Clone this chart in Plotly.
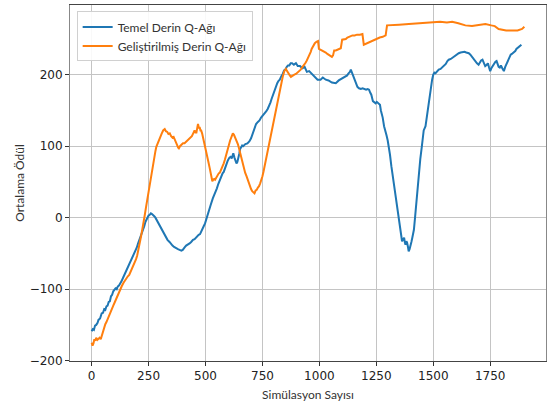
import plotly.graph_objects as go

# Temel Derin Q-Ağı (blue)
temel_x = [0,5,10,15,20,26,30,37,44,50,55,60,65,70,75,80,85,90,95,100,105,110,115,120,125,131,138,144,150,155,160,165,170,176,182,187,192,198,204,210,215,220,226,231,236,241,245,250,255,260,265,270,275,280,285,292,299,306,313,319,325,333,342,348,355,362,370,379,386,394,400,405,410,415,422,430,437,445,452,460,465,470,476,481,487,492,498,503,509,515,523,532,538,545,550,556,562,569,575,580,586,592,598,605,610,615,622,627,632,636,640,644,648,652,656,661,665,670,675,684,693,700,706,712,717,722,730,737,744,750,756,761,767,773,779,785,790,795,802,808,815,820,826,833,839,845,850,857,862,868,874,880,888,897,905,915,926,935,945,955,962,970,980,992,1005,1015,1028,1040,1055,1072,1085,1095,1105,1116,1122,1128,1134,1138,1143,1148,1155,1160,1167,1174,1182,1190,1198,1205,1212,1218,1223,1228,1235,1242,1247,1252,1257,1262,1266,1270,1274,1278,1284,1290,1295,1300,1305,1310,1316,1322,1327,1333,1338,1344,1349,1356,1363,1368,1372,1375,1378,1382,1385,1389,1392,1396,1400,1404,1408,1412,1415,1420,1425,1431,1437,1443,1450,1458,1466,1473,1480,1487,1495,1500,1505,1510,1515,1520,1524,1532,1540,1548,1555,1562,1568,1577,1585,1592,1600,1606,1612,1620,1630,1637,1645,1650,1656,1663,1670,1677,1685,1692,1699,1705,1710,1716,1721,1728,1735,1740,1745,1750,1755,1762,1768,1773,1778,1783,1787,1792,1797,1803,1810,1816,1823,1829,1835,1840,1845,1853,1860,1865,1872,1882,1887,1892,1896,1900]
temel_y = [-159,-156,-157,-151,-150,-147,-143,-141,-134,-133,-128,-129,-124,-123,-118,-117,-110,-108,-103,-101,-99,-100,-96,-95,-91,-89,-84,-80,-75,-72,-68,-66,-62,-58,-53,-51,-46,-42,-36,-31,-26,-22,-16,-12,-6,-2,1,3,4,6,5,4,2,0,-3,-6,-10,-15,-20,-24,-27,-31,-34,-37,-39,-41,-43,-44,-45,-46,-45,-42,-41,-39,-38,-36,-34,-31,-30,-27,-26,-24,-23,-20,-17,-12,-8,-2,3,10,18,27,31,37,41,47,52,57,62,64,70,74,80,84,85,83,90,84,78,76,78,82,89,96,99,101,100,102,103,104,107,111,117,122,128,131,134,136,140,142,144,147,149,152,156,161,166,171,178,184,188,191,193,198,201,206,207,211,213,213,216,216,214,216,212,212,209,211,204,205,203,200,197,193,193,196,193,192,189,188,192,194,196,198,199,202,204,207,203,197,193,190,183,181,180,181,180,179,180,179,175,172,163,161,160,162,161,160,158,150,146,140,128,122,115,108,100,88,72,58,44,33,20,9,-3,-20,-33,-30,-28,-34,-38,-33,-35,-41,-47,-44,-40,-34,-28,-22,-17,0,20,42,62,82,100,122,128,145,163,178,193,200,203,202,204,206,207,208,210,212,215,219,221,222,224,226,228,229,230,231,232,232,231,231,230,228,225,222,218,216,214,217,220,221,218,212,214,216,210,205,209,213,216,218,219,215,211,210,213,209,205,211,216,222,226,228,229,231,233,236,238,240,242]

# Geliştirilmiş Derin Q-Ağı (orange)
gelis_x = [0,4,8,12,16,20,25,30,35,40,45,50,55,60,65,72,80,87,95,102,110,117,124,132,140,147,153,159,165,171,178,184,190,195,200,205,211,217,222,228,233,239,245,250,255,260,265,270,275,280,284,290,295,302,308,314,321,326,332,337,343,349,355,360,365,370,375,380,383,388,392,397,401,408,415,422,429,435,440,446,452,456,460,464,467,471,474,478,481,485,488,492,496,501,507,512,518,522,525,530,534,538,542,547,552,558,563,569,574,580,585,590,594,598,603,608,614,620,625,630,636,642,647,652,657,663,668,674,680,685,690,695,700,705,710,715,720,725,730,735,740,744,750,755,760,766,771,777,782,788,794,799,805,810,817,822,828,833,839,846,850,853,858,864,870,875,882,890,897,904,911,918,926,934,940,945,950,955,962,966,970,975,980,987,994,998,1005,1010,1020,1028,1035,1040,1045,1050,1055,1060,1065,1072,1080,1087,1094,1100,1108,1116,1123,1130,1138,1145,1155,1165,1178,1189,1195,1202,1210,1220,1230,1238,1247,1256,1265,1278,1291,1297,1320,1350,1393,1430,1460,1495,1530,1560,1583,1610,1641,1670,1700,1729,1755,1770,1787,1800,1820,1845,1870,1890,1900]
gelis_y = [-175,-179,-176,-170,-172,-168,-171,-170,-168,-170,-165,-158,-152,-149,-146,-140,-134,-128,-123,-118,-112,-106,-100,-96,-91,-87,-84,-82,-80,-76,-71,-67,-62,-58,-53,-46,-36,-26,-17,-8,3,15,27,38,48,58,67,76,84,93,99,104,110,115,118,122,124,121,120,117,118,114,112,113,110,106,102,98,97,100,101,102,104,104,106,108,110,112,114,118,122,119,119,126,131,125,127,122,122,118,114,110,104,96,87,79,70,63,59,51,53,54,53,56,58,62,63,67,71,76,81,86,90,96,102,108,113,118,116,112,109,103,97,90,83,76,70,63,58,53,48,44,40,37,35,34,38,39,42,44,48,51,58,65,73,81,89,98,106,114,123,132,142,151,165,173,182,190,197,205,206,208,205,201,199,197,199,200,201,203,205,207,211,214,217,220,223,226,232,236,239,242,244,246,247,236,235,234,233,231,229,228,226,225,225,227,234,234,235,236,237,249,249,250,252,253,254,255,255,256,256,257,242,243,244,246,247,248,250,251,252,253,255,269,269,270,271,272,273,274,274,273,274,272,269,268,269,271,269,268,264,263,262,262,262,264,267]

x_ticks = [0, 250, 500, 750, 1000, 1250, 1500, 1750]
y_ticks = [-200, -100, 0, 100, 200]

fig = go.Figure()
fig.add_trace(go.Scatter(x=temel_x, y=temel_y, mode="lines", name="Temel Derin Q-Ağı",
                         line=dict(color="#1f77b4", width=2)))
fig.add_trace(go.Scatter(x=gelis_x, y=gelis_y, mode="lines", name="Geliştirilmiş Derin Q-Ağı",
                         line=dict(color="#ff7f0e", width=2)))

label_font = dict(family="Lato, 'Noto Sans', sans-serif", size=12, color="#333333")
tick_font = dict(family="'DejaVu Sans', sans-serif", size=12, color="#222222")

fig.update_layout(
    width=547, height=406,
    margin=dict(l=70, r=1, t=5, b=45),
    paper_bgcolor="white", plot_bgcolor="white",
    showlegend=True,
    legend=dict(x=0.014, y=0.982, xanchor="left", yanchor="top",
                bgcolor="rgba(255,255,255,0.9)", bordercolor="#d0d0d0", borderwidth=1,
                font=label_font, tracegroupgap=0),
    xaxis=dict(range=[-95, 1995], tickvals=x_ticks, ticks="outside", ticklen=4,
               tickcolor="#333333", tickfont=tick_font, automargin=False,
               showgrid=True, gridcolor="#c4c4c4", gridwidth=1, zeroline=False,
               showline=True, linecolor="#444444", linewidth=1, mirror=True,
               title=dict(text="Simülasyon Sayısı", font=label_font, standoff=8)),
    yaxis=dict(range=[-200.5, 297.5], tickvals=y_ticks, ticks="outside", ticklen=4,
               tickcolor="#333333", tickfont=tick_font, automargin=False,
               showgrid=True, gridcolor="#c4c4c4", gridwidth=1, zeroline=False,
               showline=True, linecolor="#888888", linewidth=1, mirror=True,
               title=dict(text="Ortalama Ödül", font=label_font, standoff=2)),
)

fig.write_html("out.html", config={"displayModeBar": False},
               post_script="document.body.style.margin='0';")
